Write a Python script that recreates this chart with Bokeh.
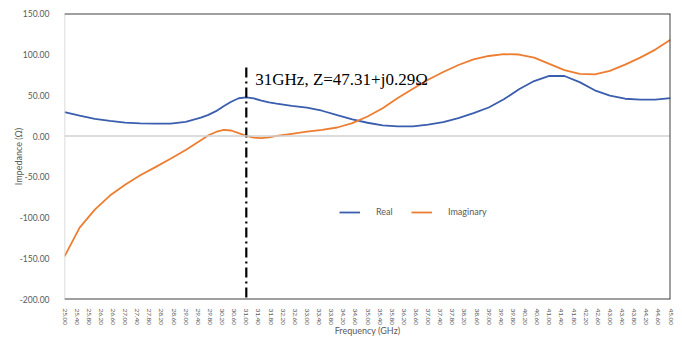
from bokeh.plotting import figure
from bokeh.models import Span, FixedTicker, NumeralTickFormatter, Legend, LegendItem, Range1d
from bokeh.core.properties import value
from bokeh.embed import file_html
from bokeh.resources import INLINE

# Frequency (GHz)
freq = [25.0, 25.5, 26.0, 26.5, 27.0, 27.5, 28.0, 28.5, 29.0, 29.5, 29.75,
        30.0, 30.25, 30.5, 30.75, 31.0, 31.25, 31.5, 31.75, 32.0, 32.5,
        33.0, 33.5, 34.0, 34.5, 35.0, 35.5, 36.0, 36.5, 37.0, 37.5,
        38.0, 38.5, 39.0, 39.5, 40.0, 40.5, 41.0, 41.5, 42.0, 42.5,
        43.0, 43.5, 44.0, 44.5, 45.0]
# Real part (Ohm)
real = [29.3, 25.0, 21.0, 18.5, 16.5, 15.6, 15.2, 15.3, 17.5, 22.5, 26.0,
        30.5, 36.5, 42.0, 46.3, 47.31, 46.0, 43.5, 41.3, 39.6, 37.0,
        34.7, 31.0, 25.5, 20.5, 16.3, 13.0, 11.8, 11.8, 13.9, 17.0,
        22.0, 28.0, 35.0, 45.0, 57.3, 67.3, 73.6, 73.5, 66.0, 56.0,
        49.5, 45.7, 44.6, 44.7, 46.5]
# Imaginary part (Ohm)
imag = [-147.3, -112.0, -90.0, -72.8, -59.5, -48.0, -38.0, -27.8, -17.0, -5.0, 1.0,
        5.0, 7.7, 6.8, 3.5, 0.29, -2.0, -2.5, -1.5, 0.2, 2.8,
        5.4, 7.5, 10.5, 15.8, 24.0, 34.0, 46.5, 58.0, 69.0, 78.4,
        87.0, 93.8, 98.0, 100.3, 99.8, 96.0, 88.3, 80.7, 76.0, 75.6,
        79.7, 87.4, 96.0, 105.8, 118.0]

x_ticks = [25.0, 25.4, 25.8, 26.2, 26.6, 27.0, 27.4, 27.8, 28.2, 28.6, 29.0,
           29.4, 29.8, 30.2, 30.6, 31.0, 31.4, 31.8, 32.2, 32.6, 33.0,
           33.4, 33.8, 34.2, 34.6, 35.0, 35.4, 35.8, 36.2, 36.6, 37.0,
           37.4, 37.8, 38.2, 38.6, 39.0, 39.4, 39.8, 40.2, 40.6, 41.0,
           41.4, 41.8, 42.2, 42.6, 43.0, 43.4, 43.8, 44.2, 44.6, 45.0]
y_ticks = [-200, -150, -100, -50, 0, 50, 100, 150]

marker_freq = 31.0
marker_label = "31GHz, Z=47.31+j0.29\u03a9"

BLUE = "#3A5DAE"
ORANGE = "#ED7D31"
FONT = "Lato"

p = figure(width=682, height=339, output_backend="svg", toolbar_location=None,
           x_range=Range1d(25, 45), y_range=Range1d(-200, 150),
           min_border_left=64, min_border_right=12, min_border_top=13,
           min_border_bottom=40)
p.outline_line_color = None
p.xgrid.visible = False
p.ygrid.visible = False

# axes
p.xaxis.ticker = FixedTicker(ticks=x_ticks)
p.xaxis.formatter = NumeralTickFormatter(format="0.00")
p.xaxis.major_label_orientation = "vertical"
p.xaxis.major_label_text_font_size = "6.5px"
p.xaxis.major_label_standoff = 3
p.xaxis.axis_label = "Frequency (GHz)"
p.xaxis.axis_label_standoff = -3

p.yaxis.ticker = FixedTicker(ticks=y_ticks)
p.yaxis.formatter = NumeralTickFormatter(format="0.00")
p.yaxis.major_label_text_font_size = "8.5px"
p.yaxis.major_label_standoff = 9
p.yaxis.axis_label = "Impedance (\u03a9)"
p.yaxis.axis_label_standoff = -7

for ax in (p.xaxis[0], p.yaxis[0]):
    ax.axis_line_color = None
    ax.major_tick_line_color = None
    ax.minor_tick_line_color = None
    ax.major_label_text_font = FONT
    ax.major_label_text_color = "#595959"
    ax.axis_label_text_font = FONT
    ax.axis_label_text_font_style = "normal"
    ax.axis_label_text_font_size = "9px"
    ax.axis_label_text_color = "#595959"

# frame borders
p.add_layout(Span(location=0, dimension="width", line_color="#D0D0D0", line_width=1.5))
p.add_layout(Span(location=25, dimension="height", line_color="#D0D0D0", line_width=1.5))
p.add_layout(Span(location=150, dimension="width", line_color="#404040", line_width=2))
p.add_layout(Span(location=-200, dimension="width", line_color="#404040", line_width=2))
p.add_layout(Span(location=45, dimension="height", line_color="#404040", line_width=2))

r_real = p.line(freq, real, line_color=BLUE, line_width=1.8)
r_imag = p.line(freq, imag, line_color=ORANGE, line_width=1.8)

# marker at 31 GHz
p.line([marker_freq, marker_freq], [84, -200], line_color="black", line_width=2.2,
       line_dash="10 4 2 4")
p.text(x=[marker_freq], y=[69], text=[marker_label], x_offset=9,
       text_font=value("Liberation Serif"), text_font_size="17px",
       text_color="black", text_baseline="alphabetic", text_align="left")

legend = Legend(items=[LegendItem(label="Real", renderers=[r_real]),
                       LegendItem(label="Imaginary", renderers=[r_imag])],
                location=(275, 82), orientation="horizontal",
                border_line_color=None, background_fill_alpha=0,
                padding=0, margin=0, spacing=15,
                glyph_width=21, glyph_height=10, label_height=10,
                label_standoff=16, label_text_font=FONT,
                label_text_font_size="9px", label_text_color="#595959")
p.add_layout(legend, "center")

open("out.html", "w").write(file_html(p, INLINE))
